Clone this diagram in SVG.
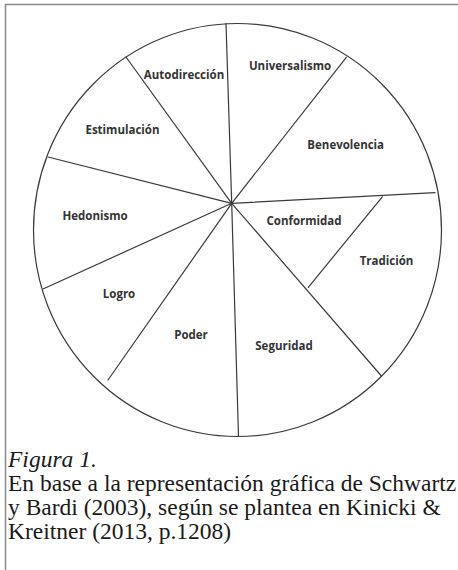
<svg xmlns="http://www.w3.org/2000/svg" width="458" height="570" viewBox="0 0 458 570">
  <style>
    .frame { stroke: #8a8a8a; stroke-width: 1.5; fill: none; }
    .wheel { stroke: #3a3a3a; stroke-width: 1.2; fill: none; }
    .spoke { stroke: #3a3a3a; stroke-width: 1.2; fill: none; stroke-linecap: round; }
    .lbl { font-family: "Open Sans", "Liberation Sans", sans-serif; font-weight: bold; font-size: 11.5px; fill: #333; text-anchor: middle; }
    .cap { font-family: "Liberation Serif", "Times New Roman", serif; font-size: 23.5px; fill: #1a1a1a; }
  </style>
  <rect x="0" y="0" width="458" height="570" fill="#fff"/>
  <g id="frame">
    <path class="frame" d="M5.5 570 V4.5 H458"/>
  </g>
  <g id="wheel">
    <ellipse class="wheel" cx="237.5" cy="230" rx="204" ry="206.5"/>
  </g>
  <g id="connectors">
    <line class="spoke" x1="231.7" y1="203.3" x2="226" y2="23.5"/>
    <line class="spoke" x1="231.7" y1="203.3" x2="126" y2="57"/>
    <line class="spoke" x1="231.7" y1="203.3" x2="48" y2="157"/>
    <line class="spoke" x1="231.7" y1="203.3" x2="43" y2="289"/>
    <line class="spoke" x1="231.7" y1="203.3" x2="108" y2="380"/>
    <line class="spoke" x1="231.7" y1="203.3" x2="238.5" y2="436.5"/>
    <line class="spoke" x1="231.7" y1="203.3" x2="381" y2="375.5"/>
    <line class="spoke" x1="231.7" y1="203.3" x2="435" y2="192.7"/>
    <line class="spoke" x1="308.3" y1="287.3" x2="382.3" y2="196.8"/>
    <line class="spoke" x1="231.7" y1="203.3" x2="346.3" y2="57.3"/>
  </g>
  <g id="autodireccion"><text class="lbl" x="184" y="79">Autodirección</text></g>
  <g id="universalismo"><text class="lbl" x="290" y="69.5">Universalismo</text></g>
  <g id="estimulacion"><text class="lbl" x="122.5" y="134">Estimulación</text></g>
  <g id="benevolencia"><text class="lbl" x="345.7" y="149">Benevolencia</text></g>
  <g id="hedonismo"><text class="lbl" x="95" y="220">Hedonismo</text></g>
  <g id="conformidad"><text class="lbl" x="304" y="225">Conformidad</text></g>
  <g id="tradicion"><text class="lbl" x="386.5" y="264.5">Tradición</text></g>
  <g id="logro"><text class="lbl" x="119" y="298">Logro</text></g>
  <g id="poder"><text class="lbl" x="191" y="338.5">Poder</text></g>
  <g id="seguridad"><text class="lbl" x="284" y="349.5">Seguridad</text></g>
  <g id="caption">
    <text class="cap" x="8" y="466.5" font-style="italic">Figura 1.</text>
    <text class="cap" x="8" y="490.5">En base a la representación gráfica de Schwartz</text>
    <text class="cap" x="8" y="515">y Bardi (2003), según se plantea en Kinicki &amp;</text>
    <text class="cap" x="8" y="539">Kreitner (2013, p.1208)</text>
  </g>
</svg>
